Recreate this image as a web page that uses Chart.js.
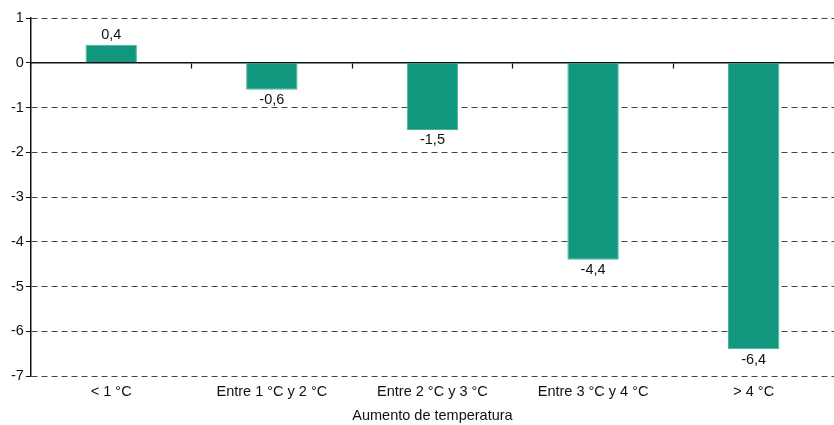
<!DOCTYPE html>
<html>
<head>
<meta charset="utf-8">
<script src="https://cdn.jsdelivr.net/npm/chart.js@4"></script>
<style>
  html, body { margin: 0; padding: 0; background: #fff; }
  #wrap { width: 834px; height: 425px; }
</style>
</head>
<body>
<div id="wrap"><canvas id="chart"></canvas></div>
<script>
const categories = ["< 1 °C", "Entre 1 °C y 2 °C", "Entre 2 °C y 3 °C", "Entre 3 °C y 4 °C", "> 4 °C"];
const values = [0.4, -0.6, -1.5, -4.4, -6.4];
const yTicks = [1, 0, -1, -2, -3, -4, -5, -6, -7];
const axisTitle = "Aumento de temperatura";

const FONT = { family: "'Liberation Sans', Arial, sans-serif", size: 14.5 };

// labels above/below each bar, with decimal comma
const barLabels = {
  id: "barLabels",
  afterDatasetsDraw(chart) {
    const ctx = chart.ctx;
    const meta = chart.getDatasetMeta(0);
    ctx.save();
    ctx.font = FONT.size + "px " + FONT.family;
    ctx.fillStyle = "#111";
    ctx.textAlign = "center";
    meta.data.forEach((bar, i) => {
      const v = values[i];
      const txt = v.toFixed(1).replace(".", ",");
      if (v >= 0) {
        ctx.textBaseline = "bottom";
        ctx.fillText(txt, bar.x, bar.y - 3);
      } else {
        ctx.textBaseline = "top";
        ctx.fillText(txt, bar.x, bar.y + 3);
      }
    });
    ctx.restore();
  },
};

new Chart(document.getElementById("chart"), {
  type: "bar",
  data: {
    labels: categories,
    datasets: [
      {
        data: values,
        backgroundColor: "#12977f",
        borderColor: "#4fb39c",
        borderWidth: 1,
        barPercentage: 0.32,
        categoryPercentage: 1,
      },
    ],
  },
  options: {
    responsive: true,
    maintainAspectRatio: false,
    animation: false,
    layout: { padding: { top: 18, right: 0, left: 9, bottom: 0 } },
    plugins: { legend: { display: false }, tooltip: { enabled: false } },
    scales: {
      x: {
        position: "bottom",
        grid: { display: false, drawTicks: false },
        border: { display: false },
        ticks: { color: "#111", font: FONT, padding: 7 },
        title: { display: true, text: axisTitle, color: "#111", font: FONT, padding: { top: 0, bottom: 0 } },
      },
      x2: {
        type: "category",
        position: { y: 0 },
        offset: true,
        ticks: { display: false },
        grid: { drawOnChartArea: false, offset: true, tickLength: 5, tickColor: "#111", tickWidth: 1.2 },
        border: { display: true, color: "#111", width: 1.5 },
      },
      y: {
        min: -7,
        max: 1,
        afterBuildTicks: (axis) => { axis.ticks = yTicks.map((v) => ({ value: v })); },
        ticks: { color: "#111", font: FONT, padding: 2 },
        grid: { color: "#444", lineWidth: 1, tickColor: "#111", tickLength: 5 },
        border: { display: true, color: "#111", width: 1.5, dash: [6, 4] },
      },
    },
  },
  plugins: [barLabels],
});
</script>
</body>
</html>
